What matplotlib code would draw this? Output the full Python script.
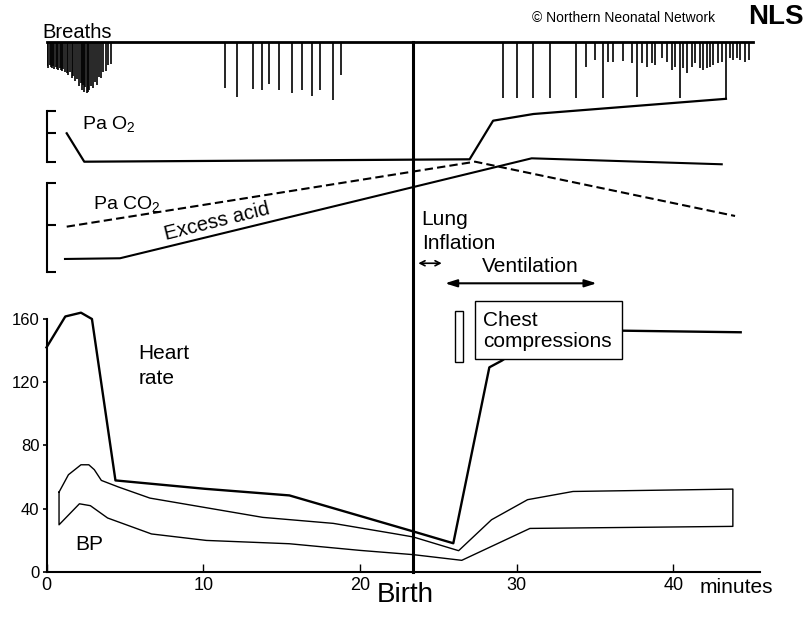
import numpy as np
import matplotlib.pyplot as plt
from matplotlib.patches import Rectangle

plt.rcParams['font.family'] = ['Liberation Sans', 'DejaVu Sans']
plt.rcParams['mathtext.fontset'] = 'custom'
plt.rcParams['mathtext.rm'] = 'Liberation Sans'

W, H = 809, 617

# ---- data (time in minutes) ----
birth = 23.4

hr_t = [0.0, 1.2, 2.2, 2.9, 4.4, 10.1, 15.5, 23.4, 25.96, 28.26, 29.05, 31.5, 36.8, 44.3]
hr_v = [142, 161.6, 164, 160, 57.8, 52.5, 48.3, 25.5, 18.0, 129.4, 133.6, 150, 152.6, 151.6]

bp_hi_t = [0.8, 1.4, 2.2, 2.7, 3.05, 3.5, 4.6, 6.6, 13.8, 18.3, 22.3, 23.4, 26.3, 28.4, 30.7, 33.6, 43.8]
bp_hi_v = [50.4, 61.4, 67.7, 67.7, 64.6, 57.8, 53.6, 46.6, 34.4, 30.6, 23.9, 22.0, 13.3, 32.9, 45.6, 50.8, 52.3]
bp_lo_t = [0.8, 2.1, 2.8, 3.9, 6.7, 10.2, 15.5, 20.0, 23.4, 26.5, 30.85, 43.8]
bp_lo_v = [29.7, 43.0, 41.8, 34.0, 23.9, 19.8, 17.7, 13.5, 10.8, 7.2, 27.4, 28.7]

# blood gases, relative level (0 = bottom of bracket, 100 = top)
o2_t = [1.29, 2.41, 27.0, 28.5, 31.07, 43.36]
o2_v = [55.7, 0, 4.7, 80.4, 93.5, 123.3]
co2_t = [1.29, 27.35, 43.94]
co2_v = [50.6, 123.6, 62.6]
acid_t = [1.18, 4.69, 30.96, 43.09]
acid_v = [14.3, 15.1, 127.4, 120.7]

# breaths: time and deflection depth
br_t = [0.05, 0.12, 0.2, 0.27, 0.34, 0.42, 0.5, 0.58, 0.66, 0.75, 0.83, 0.92, 1.0, 1.08,
        1.18, 1.28, 1.39, 1.5, 1.61, 1.72, 1.82, 1.95, 2.09, 2.18, 2.25, 2.32, 2.39, 2.48,
        2.57, 2.65, 2.73, 2.82, 2.99, 3.1, 3.2, 3.33, 3.46, 3.6, 3.8, 3.95, 4.09,
        11.39, 12.18, 13.2, 13.73, 14.22, 14.86, 15.65, 16.28, 16.92, 17.45, 18.26, 18.77,
        29.1, 30.0, 31.07, 32.1, 33.8, 34.4, 35.0, 35.5, 35.85, 36.17, 36.81, 37.35, 37.7,
        37.98, 38.3, 38.62, 38.83, 39.26, 39.58, 39.9, 40.11, 40.43, 40.64, 40.89, 41.17,
        41.39, 41.7, 41.92, 42.13, 42.34, 42.56, 42.87, 43.09, 43.36, 43.62, 43.83, 44.05,
        44.26, 44.58, 44.85]
br_d = [24, 26, 23, 25, 26, 24, 27, 25, 27, 28, 26, 28, 29, 27,
        30, 31, 33, 30, 36, 34, 39, 37, 44, 41, 48, 43, 50, 45,
        51, 50, 48, 44, 46, 40, 43, 35, 36, 30, 29, 23, 22,
        46, 55, 47, 48.3, 42.7, 48.3, 51, 48.3, 54.3, 48.3, 58.3, 33.7,
        56.6, 56.6, 56.6, 56.6, 56.6, 25, 18.3, 56.6, 20, 20, 19.3, 21.6, 55,
        21.6, 25, 21.6, 23.3, 16.6, 20, 28.3, 25, 56.6, 26.6, 31.6, 25,
        21.6, 26.6, 28.3, 26.6, 25, 23.3, 21.6, 20, 56.6, 16.6, 18.3, 16.6,
        18.3, 20, 18.3]

t_end = 45.5


def px_axes(left, top, right, bottom):
    return fig.add_axes([left / W, 1 - bottom / H, (right - left) / W, (bottom - top) / H])


def blank(a):
    a.patch.set_visible(False)
    for s in a.spines.values():
        s.set_visible(False)
    a.set_xticks([])
    a.set_yticks([])
    a.set_xlim(0, t_end)


fig = plt.figure(figsize=(W / 100, H / 100), dpi=100)
fig.patch.set_facecolor('white')

# ---- main panel: heart rate and BP ----
ax = px_axes(46.5, 319, 759.5, 571.7)
ax.patch.set_visible(False)
ax.set_xlim(0, t_end)
ax.set_ylim(0, 160)
ax.spines['top'].set_visible(False)
ax.spines['right'].set_visible(False)
ax.spines['left'].set_linewidth(1.5)
ax.spines['bottom'].set_linewidth(1.5)
ax.set_yticks([0, 40, 80, 120, 160])
ax.set_xticks([0, 10, 20, 30, 40])
ax.tick_params(axis='y', direction='out', length=3, width=1.2, pad=2, labelsize=12)
ax.tick_params(axis='x', direction='in', length=6, width=1, pad=4, labelsize=13)
for lab in ax.get_yticklabels():
    lab.set_family(['Liberation Sans Narrow', 'Liberation Sans'])

ax.plot(hr_t, hr_v, color='black', lw=1.7, clip_on=False, zorder=3)
bp_x = bp_hi_t + bp_lo_t[::-1] + [bp_hi_t[0]]
bp_y = bp_hi_v + bp_lo_v[::-1] + [bp_hi_v[0]]
ax.plot(bp_x, bp_y, color='black', lw=1.0, clip_on=False)

# birth line runs up to the breaths trace
ax.axvline(birth, ymin=0, ymax=(571.7 - 41.7) / 252.7, color='black', lw=2.2, clip_on=False, zorder=4)

# chest compressions
ax.add_patch(Rectangle((26.07, 132.9), 0.53, 32.4, fc='none', ec='black', lw=1.0, clip_on=False))
ax.add_patch(Rectangle((27.35, 134.5), 9.4, 37.1, fc='white', ec='black', lw=1.0, clip_on=False, zorder=5))
ax.text(27.86, 152.6, 'Chest\ncompressions', ha='left', va='center', fontsize=15,
        linespacing=1.15, zorder=6)

# interventions
ax.annotate('', xy=(25.22, 195.3), xytext=(23.73, 195.3), annotation_clip=False,
            arrowprops=dict(arrowstyle='<->,head_length=0.35,head_width=0.18', color='black',
                            lw=1.2, shrinkA=0, shrinkB=0))
ax.annotate('', xy=(35.11, 182.6), xytext=(25.43, 182.6), annotation_clip=False,
            arrowprops=dict(arrowstyle='<|-|>,head_length=0.7,head_width=0.22', color='black',
                            lw=1.5, shrinkA=0, shrinkB=0))
ax.text(23.94, 215.3, 'Lung\nInflation', ha='left', va='center', fontsize=15, linespacing=1.3)
ax.text(30.86, 193.2, 'Ventilation', ha='center', va='center', fontsize=15)

ax.text(5.86, 130, 'Heart\nrate', ha='left', va='center', fontsize=15, linespacing=1.4)
ax.text(1.82, 17.5, 'BP', ha='left', va='center', fontsize=15)
ax.text(22.88, -14.8, 'Birth', ha='center', va='center', fontsize=20)
ax.text(41.7, -13.7, 'minutes', ha='left', va='baseline', fontsize=15)

# ---- breaths ----
ax_br = px_axes(46.5, 41.7, 759.5, 101.7)
blank(ax_br)
ax_br.set_ylim(60, 0)
ax_br.plot([0, 45.1], [0, 0], color='black', lw=2, clip_on=False)
ax_br.vlines(br_t, 0, br_d, color='black', lw=1.2)

# ---- Pa O2 ----
ax_o2 = px_axes(46.5, 110.7, 759.5, 161.7)
blank(ax_o2)
ax_o2.set_ylim(0, 100)
ax_o2.plot(o2_t, o2_v, color='black', lw=1.6, clip_on=False)
ax_o2.text(2.25, 63.5, r'Pa O$_\mathregular{2}$', ha='left', va='baseline', fontsize=14)

# ---- Pa CO2 / excess acid ----
ax_co2 = px_axes(46.5, 182.7, 759.5, 271.7)
blank(ax_co2)
ax_co2.set_ylim(0, 100)
ax_co2.plot(co2_t, co2_v, color='black', lw=1.5, ls=(0, (4, 2)), clip_on=False)
ax_co2.plot(acid_t, acid_v, color='black', lw=1.5, clip_on=False)
ax_co2.text(2.97, 69.3, r'Pa CO$_\mathregular{2}$', ha='left', va='baseline', fontsize=14)
ax_co2.text(10.9, 56.5, 'Excess acid', ha='center', va='center', fontsize=14.5, rotation=14)

for a, ticks in [(ax_o2, [0, 57, 100]), (ax_co2, [0, 52.5, 100])]:
    a.spines['left'].set_visible(True)
    a.spines['left'].set_linewidth(1.5)
    a.set_yticks(ticks)
    a.tick_params(axis='y', direction='in', length=6.5, width=1.5, labelleft=False)

# ---- headings ----
fig.text(42.7 / W, 1 - 38 / H, 'Breaths', ha='left', va='baseline', fontsize=14.5)
fig.text(531.7 / W, 1 - 18.5 / H, '\u00a9 Northern Neonatal Network', ha='left', va='center', fontsize=10)
fig.text(748 / W, 1 - 17.5 / H, 'NLS', ha='left', va='center', fontsize=20, fontweight='bold')

fig.savefig('out.png', dpi=100)
